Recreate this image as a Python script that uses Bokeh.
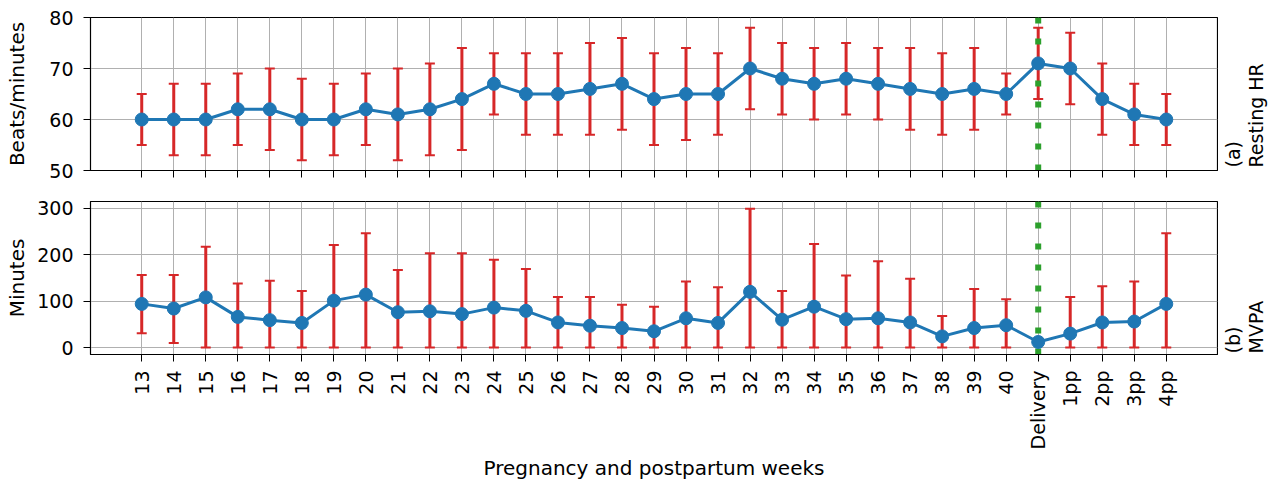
import math
from bokeh.plotting import figure
from bokeh.layouts import column, row
from bokeh.models import FixedTicker, Range1d, ColumnDataSource
from bokeh.core.properties import value
from bokeh.embed import file_html
from bokeh.resources import INLINE

weeks = [str(w) for w in range(13, 41)] + ["Delivery", "1pp", "2pp", "3pp", "4pp"]

hr_mean = [60, 60, 60, 62, 62, 60, 60, 62, 61, 62, 64, 67, 65, 65, 66, 67, 64, 65, 65, 70,
           68, 67, 68, 67, 66, 65, 66, 65, 71, 70, 64, 61, 60]
hr_upper = [65, 67, 67, 69, 70, 68, 67, 69, 70, 71, 74, 73, 73, 73, 75, 76, 73, 74, 73, 78,
            75, 74, 75, 74, 74, 73, 74, 69, 78, 77, 71, 67, 65]
hr_lower = [55, 53, 53, 55, 54, 52, 53, 55, 52, 53, 54, 61, 57, 57, 57, 58, 55, 56, 57, 62,
            61, 60, 61, 60, 58, 57, 58, 61, 64, 63, 57, 55, 55]

nan = float("nan")
mvpa_mean = [94, 84, 108, 66, 59, 53, 101, 114, 76, 78, 72, 86, 79, 54, 47, 42, 35, 63, 53, 120,
             60, 88, 61, 63, 54, 24, 42, 48, 12, 30, 54, 56, 94]
mvpa_upper = [156, 156, 217, 138, 144, 122, 221, 246, 167, 203, 203, 189, 169, 109, 109, 92, 88, 142, 130, 299,
              122, 223, 155, 186, 148, 68, 126, 104, nan, 109, 132, 142, 246]
mvpa_lower = [31, 10, 0, 0, 0, 0, 0, 0, 0, 0, 0, 0, 0, 0, 0, 0, 0, 0, 0, 0,
              0, 0, 0, 0, 0, 0, 0, 0, nan, 0, 0, 0, 0]

hr_ticks = [50, 60, 70, 80]
mvpa_ticks = [0, 100, 200, 300]

y_labels = ["Beats/minutes", "Minutes"]
side_labels = ["(a)\nResting HR", "(b)\nMVPA"]
x_title = "Pregnancy and postpartum weeks"

FONT = "DejaVu Sans"
TICK_FS = "19px"
LABEL_FS = "20px"
SIDE_FS = "19px"
BLUE = "#1f77b4"
RED = "#d62728"
GREEN = "#2ca02c"

xs = list(range(len(weeks)))
delivery_x = weeks.index("Delivery")
xpad = 0.05 * (len(weeks) - 1)
x_start, x_end = -xpad, len(weeks) - 1 + xpad

FRAME_W = 1127
FRAME_H = 153


def make_panel(mean, upper, lower, ticks, y0, y1, ylabel, label_standoff,
               top_border, bottom_border, show_x_labels):
    p = figure(frame_width=FRAME_W, frame_height=FRAME_H,
               x_range=Range1d(x_start, x_end), y_range=Range1d(y0, y1),
               output_backend="svg", toolbar_location=None,
               min_border_left=90, min_border_right=1,
               min_border_top=top_border, min_border_bottom=bottom_border,
               background_fill_color="white", border_fill_color="white")
    p.outline_line_color = "black"
    p.outline_line_width = 1.2
    p.outline_line_alpha = 1.0

    p.xgrid.ticker = FixedTicker(ticks=xs)
    p.ygrid.ticker = FixedTicker(ticks=ticks)
    for g in (p.xgrid, p.ygrid):
        g.grid_line_color = "#b0b0b0"
        g.grid_line_width = 1

    p.yaxis.ticker = FixedTicker(ticks=ticks)
    p.yaxis.axis_label = ylabel
    p.yaxis.axis_label_text_font = FONT
    p.yaxis.axis_label_text_font_size = LABEL_FS
    p.yaxis.axis_label_text_font_style = "normal"
    p.yaxis.axis_label_text_color = "black"
    p.yaxis.axis_label_standoff = label_standoff
    p.yaxis.major_label_text_font = FONT
    p.yaxis.major_label_text_font_size = TICK_FS
    p.yaxis.major_label_text_color = "black"
    p.yaxis.major_tick_out = 7
    p.yaxis.major_tick_in = 0
    p.yaxis.minor_tick_out = 0
    p.yaxis.minor_tick_in = 0
    p.yaxis.major_label_standoff = 10
    p.yaxis.axis_line_color = "black"
    p.yaxis.major_tick_line_color = "black"

    p.xaxis.ticker = FixedTicker(ticks=xs)
    p.xaxis.major_tick_out = 7
    p.xaxis.major_tick_in = 0
    p.xaxis.minor_tick_out = 0
    p.xaxis.minor_tick_in = 0
    p.xaxis.axis_line_color = "black"
    p.xaxis.major_tick_line_color = "black"
    if show_x_labels:
        p.xaxis.major_label_overrides = {i: w for i, w in enumerate(weeks)}
        p.xaxis.major_label_orientation = math.pi / 2
        p.xaxis.major_label_text_font = FONT
        p.xaxis.major_label_text_font_size = TICK_FS
        p.xaxis.major_label_text_color = "black"
        p.xaxis.major_label_standoff = 9
        p.xaxis.axis_label = x_title
        p.xaxis.axis_label_text_font = FONT
        p.xaxis.axis_label_text_font_size = LABEL_FS
        p.xaxis.axis_label_text_font_style = "normal"
        p.xaxis.axis_label_text_color = "black"
        p.xaxis.axis_label_standoff = 4
    else:
        p.xaxis.major_label_overrides = {i: "" for i in xs}
        p.xaxis.major_label_text_font_size = "1px"
        p.xaxis.major_label_standoff = 0

    src = ColumnDataSource(dict(x=xs, mean=mean, upper=upper, lower=lower))
    p.segment(x0="x", y0="lower", x1="x", y1="upper", source=src,
              line_color=RED, line_width=3)
    p.scatter(x="x", y="upper", source=src, marker="dash", size=10,
              line_color=RED, line_width=2)
    p.scatter(x="x", y="lower", source=src, marker="dash", size=10,
              line_color=RED, line_width=2)
    p.segment(x0=[delivery_x], y0=[y0], x1=[delivery_x], y1=[y1],
              line_color=GREEN, line_width=6, line_dash="6 15", line_cap="butt")
    p.line(x="x", y="mean", source=src, line_color=BLUE, line_width=3)
    p.scatter(x="x", y="mean", source=src, marker="circle", size=13,
              fill_color=BLUE, line_color=BLUE)
    return p


def make_side(height, text, y_pos):
    r = figure(width=52, height=height, x_range=Range1d(0, 52), y_range=Range1d(0, height),
               output_backend="svg", toolbar_location=None,
               min_border_left=0, min_border_right=0, min_border_top=0, min_border_bottom=0,
               background_fill_color="white", border_fill_color="white")
    r.axis.visible = False
    r.grid.visible = False
    r.outline_line_color = None
    r.text(x=[3], y=[y_pos], text=[text], angle=math.pi / 2,
           text_align="left", text_baseline="top",
           text_font=value(FONT), text_font_size=SIDE_FS, text_color="black",
           text_line_height=1.05)
    return r


TOP_H = 17 + FRAME_H + 16
BOT_H = 484 - TOP_H

p1 = make_panel(hr_mean, hr_upper, hr_lower, hr_ticks, 50, 80, y_labels[0], 17,
                17, 16, False)
p2 = make_panel(mvpa_mean, mvpa_upper, mvpa_lower, mvpa_ticks, -15, 314.5, y_labels[1], 5,
                15, BOT_H - 15 - FRAME_H, True)

r1 = make_side(TOP_H, side_labels[0], TOP_H - 167)
r2 = make_side(BOT_H, side_labels[1], 484 - 353)

layout = row(column(p1, p2, spacing=0), column(r1, r2, spacing=0), spacing=0)
open("out.html", "w").write(file_html(layout, INLINE))
